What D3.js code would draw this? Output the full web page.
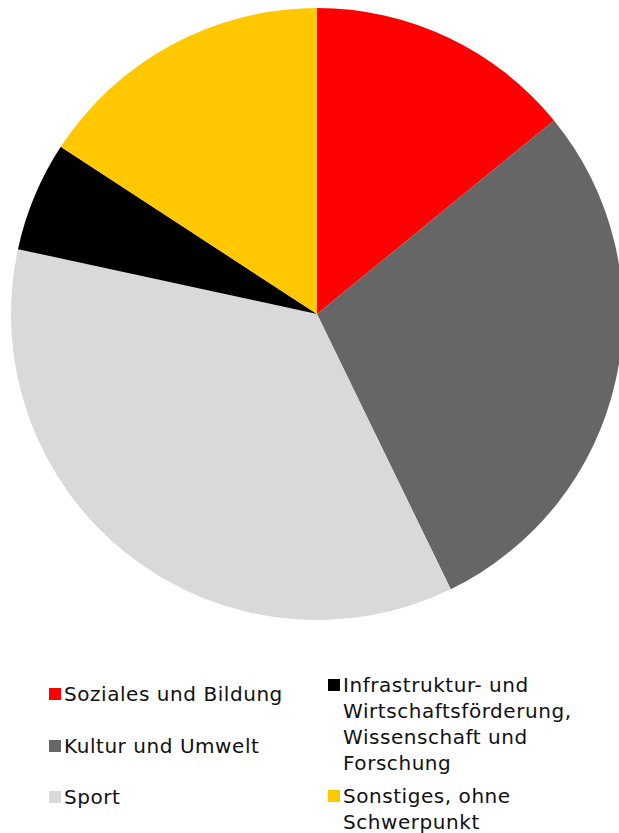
<!DOCTYPE html>
<html>
<head>
<meta charset="utf-8">
<script src="https://cdn.jsdelivr.net/npm/d3@7"></script>
<style>
  html, body { margin: 0; padding: 0; background: #fff; }
  svg { display: block; }
  .legend text { font-family: "DejaVu Sans", Verdana, sans-serif; font-size: 20px; letter-spacing: 0.55px; fill: #111; }
</style>
</head>
<body>
<div id="chart"></div>
<script>
// Chart data (shares in percent)
var categories = [
    "Soziales und Bildung",
    "Kultur und Umwelt",
    "Sport",
    "Infrastruktur- und Wirtschaftsförderung, Wissenschaft und Forschung",
    "Sonstiges, ohne Schwerpunkt"
];
var shares = [14.1, 28.7, 35.6, 5.8, 15.8];
var colors = ["#ff0000", "#666666", "#d9d9d9", "#000000", "#ffc800"];

// legend labels, wrapped as in the original
var legendLines = [
    ["Soziales und Bildung"],
    ["Kultur und Umwelt"],
    ["Sport"],
    ["Infrastruktur- und", "Wirtschaftsförderung,", "Wissenschaft und", "Forschung"],
    ["Sonstiges, ohne", "Schwerpunkt"]
];

var width = 619, height = 833;
var cx = 317, cy = 314, radius = 306;

var svg = d3.select("#chart").append("svg")
    .attr("width", width)
    .attr("height", height);

var data = categories.map(function (c, i) {
    return { label: c, value: shares[i], color: colors[i], lines: legendLines[i] };
});

var pie = d3.pie()
    .sort(null)
    .value(function (d) { return d.value; });

var arc = d3.arc()
    .innerRadius(0)
    .outerRadius(radius);

var pieGroup = svg.append("g")
    .attr("transform", "translate(" + cx + "," + cy + ")");

pieGroup.selectAll("path")
    .data(pie(data))
    .enter()
    .append("path")
    .attr("d", arc)
    .attr("fill", function (d) { return d.data.color; });

// Legend: two columns
var legendPos = [
    { x: 49, y: 694 },
    { x: 49, y: 746 },
    { x: 49, y: 797 },
    { x: 328, y: 685 },
    { x: 328, y: 796 }
];
var lineHeight = 26;

var legend = svg.append("g").attr("class", "legend");

var items = legend.selectAll("g")
    .data(data)
    .enter()
    .append("g")
    .attr("transform", function (d, i) {
        return "translate(" + legendPos[i].x + "," + legendPos[i].y + ")";
    });

items.append("rect")
    .attr("x", 0)
    .attr("y", -6)
    .attr("width", 12)
    .attr("height", 12)
    .attr("fill", function (d) { return d.color; });

items.each(function (d) {
    var g = d3.select(this);
    d.lines.forEach(function (line, j) {
        g.append("text")
            .attr("x", 15)
            .attr("y", j * lineHeight)
            .attr("dy", "0.35em")
            .text(line);
    });
});
</script>
</body>
</html>
